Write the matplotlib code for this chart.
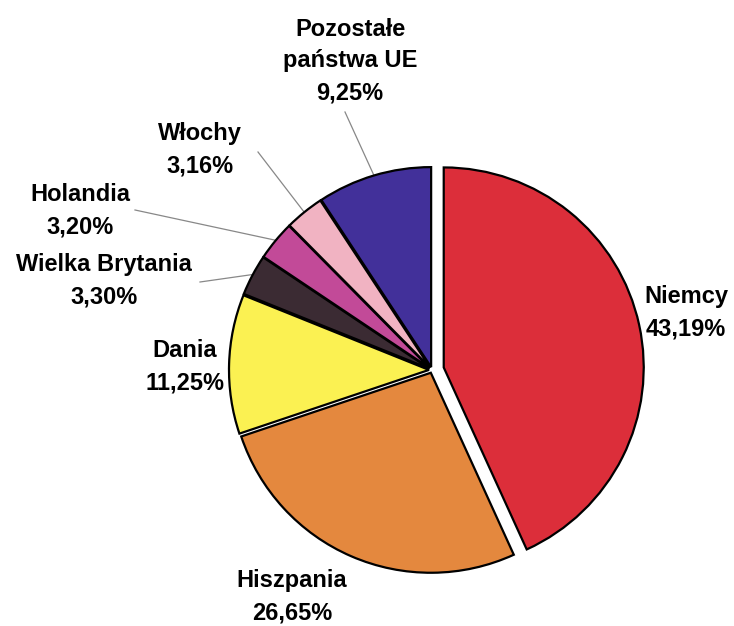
import numpy as np
import matplotlib.pyplot as plt

# Struktura eksportu - udzialy krajow (%)
countries = ["Niemcy", "Hiszpania", "Dania", "Wielka Brytania",
             "Holandia", "Włochy", "Pozostałe\npaństwa UE"]
shares = [43.19, 26.65, 11.25, 3.30, 3.20, 3.16, 9.25]
share_labels = ["43,19%", "26,65%", "11,25%", "3,30%", "3,20%", "3,16%", "9,25%"]
colors = ["#dc2e3a", "#e4883e", "#fbf152", "#3b2b33",
          "#c24a98", "#f1b3c2", "#42309a"]
explode = [0.06, 0.015, 0.015, 0.015, 0.015, 0.015, 0.015]

# label positions in pixels (layout only) and whether to draw a leader line
label_px = [(686, 313), (292, 597), (185, 367), (104, 281),
            (80, 211), (200, 150), (350, 61)]
leader_start_px = [None, None, None, (200, 282), (135, 210), (258, 152), (345, 112)]

W, H = 734, 626
CX, CY, R = 432, 370, 200


def px_to_data(px, py):
    return (px - CX) / R, (CY - py) / R


fig = plt.figure(figsize=(W / 100, H / 100), dpi=100)
ax = fig.add_axes([0, 0, 1, 1])

wedges, _ = ax.pie(shares, colors=colors, explode=explode, startangle=90,
                   counterclock=False, radius=1.0,
                   wedgeprops=dict(edgecolor="black", linewidth=1.6))

# leader lines + labels
for i, w in enumerate(wedges):
    mid = np.deg2rad((w.theta1 + w.theta2) / 2)
    text = countries[i] + "\n" + share_labels[i]
    lx, ly = px_to_data(*label_px[i])
    ax.text(lx, ly, text, ha="center", va="center", fontsize=17,
            fontweight="bold", family="Liberation Sans", linespacing=1.5)
    if leader_start_px[i] is not None:
        sx, sy = px_to_data(*leader_start_px[i])
        ex, ey = 1.02 * np.cos(mid), 1.02 * np.sin(mid)
        ax.plot([sx, ex], [sy, ey], color="#888888", linewidth=0.9, zorder=0)

ax.set_xlim(-CX / R, (W - CX) / R)
ax.set_ylim((CY - H) / R, CY / R)
ax.set_aspect("equal")
ax.axis("off")

fig.savefig("out.png", dpi=100, facecolor="white")
